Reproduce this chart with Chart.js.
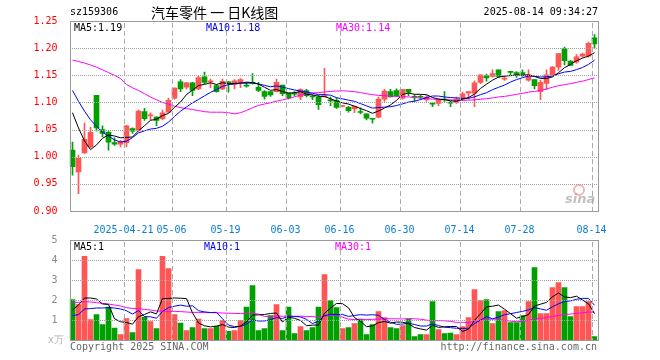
<!DOCTYPE html>
<html>
<head>
<meta charset="utf-8">
<script src="https://cdn.jsdelivr.net/npm/chart.js@4.4.1/dist/chart.umd.min.js"></script>
<style>
  html, body { margin:0; padding:0; background:#fff; }
  body { width:660px; height:360px; overflow:hidden; position:relative; font-family:'DejaVu Sans Mono', monospace; }
  canvas { position:absolute; left:0; }
  #c1 { top:0; }
  #c2 { top:230px; }
  .t { position:absolute; white-space:nowrap; font-size:10px; line-height:12px; font-family:'DejaVu Sans Mono', monospace; }
  #grid { position:absolute; left:0; top:0; width:660px; height:360px; pointer-events:none; z-index:5; }
  .gh { position:absolute; height:1px; background-image:repeating-linear-gradient(to right, #a0a0a0 0px, #a0a0a0 1px, rgba(0,0,0,0) 1px, rgba(0,0,0,0) 2px); }
  .gv { position:absolute; width:1px; background-image:repeating-linear-gradient(to bottom, #aaaaaa 0px, #aaaaaa 5px, rgba(0,0,0,0) 5px, rgba(0,0,0,0) 8px); }
</style>
</head>
<body>
<canvas id="c1" width="660" height="235"></canvas>
<canvas id="c2" width="660" height="130"></canvas>
<div id="grid"></div>

<div class="t" style="left:70px;top:6px;color:#000;">sz159306</div>
<div class="t" style="left:151px;top:3px;line-height:18px;font-size:14px;font-family:'Noto Sans CJK SC',sans-serif;color:#000;">汽车零件 一 日K线图</div>
<div class="t" style="right:62px;top:6px;color:#000;">2025-08-14 09:34:27</div>

<div class="t" style="left:74px;top:22px;color:#000;z-index:6;">MA5:1.19</div>
<div class="t" style="left:206px;top:22px;color:#0000ff;z-index:6;">MA10:1.18</div>
<div class="t" style="left:336px;top:22px;color:#ff00ff;z-index:6;">MA30:1.14</div>

<div class="t" style="left:74px;top:241px;color:#000;z-index:6;">MA5:1</div>
<div class="t" style="left:204px;top:241px;color:#0000ff;z-index:6;">MA10:1</div>
<div class="t" style="left:335px;top:241px;color:#ff00ff;z-index:6;">MA30:1</div>

<div class="t" style="left:48px;top:334px;color:#b0b0b0;">x万</div>
<div class="t" style="left:70px;top:341px;color:#666;">Copyright 2025 SINA.COM</div>
<div class="t" style="right:63px;top:341px;color:#666;">http://finance.sina.com.cn</div>

<div style="position:absolute;left:573px;top:184px;width:8px;height:8px;border:2px solid rgba(240,120,120,0.55);border-radius:50%;"></div>
<div class="t" style="left:565px;top:192px;font:italic bold 13px 'DejaVu Sans',sans-serif;color:rgba(150,150,150,0.6);line-height:14px;">sina</div>

<script>
// ---- categories (trading days) ----
const dates = [
  '2025-04-08','2025-04-09','2025-04-10','2025-04-11','2025-04-14','2025-04-15','2025-04-16','2025-04-17','2025-04-18','2025-04-21',
  '2025-04-22','2025-04-23','2025-04-24','2025-04-25','2025-04-28','2025-04-29','2025-04-30','2025-05-06','2025-05-07','2025-05-08',
  '2025-05-09','2025-05-12','2025-05-13','2025-05-14','2025-05-15','2025-05-16','2025-05-19','2025-05-20','2025-05-21','2025-05-22',
  '2025-05-23','2025-05-26','2025-05-27','2025-05-28','2025-05-29','2025-05-30','2025-06-03','2025-06-04','2025-06-05','2025-06-06',
  '2025-06-09','2025-06-10','2025-06-11','2025-06-12','2025-06-13','2025-06-16','2025-06-17','2025-06-18','2025-06-19','2025-06-20',
  '2025-06-23','2025-06-24','2025-06-25','2025-06-26','2025-06-27','2025-06-30','2025-07-01','2025-07-02','2025-07-03','2025-07-04',
  '2025-07-07','2025-07-08','2025-07-09','2025-07-10','2025-07-11','2025-07-14','2025-07-15','2025-07-16','2025-07-17','2025-07-18',
  '2025-07-21','2025-07-22','2025-07-23','2025-07-24','2025-07-25','2025-07-28','2025-07-29','2025-07-30','2025-07-31','2025-08-01',
  '2025-08-04','2025-08-05','2025-08-06','2025-08-07','2025-08-08','2025-08-11','2025-08-12','2025-08-14'
];
// ---- x tick labels ----
const tickDates = ['2025-04-21','2025-05-06','2025-05-19','2025-06-03','2025-06-16','2025-06-30','2025-07-14','2025-07-28','2025-08-14'];
const tickText  = ['2025-04-21','05-06','05-19','06-03','06-16','06-30','07-14','07-28','08-14'];
// ---- y tick values with grid lines ----
const priceGridValues = [0.95, 1.00, 1.05, 1.10, 1.15, 1.20];
const volumeGridValues = [1, 2, 3, 4];

// ---- OHLC ----
const opens = [
  1.012,0.972,1.007,1.018,1.113,1.050,1.045,1.026,1.023,1.026,
  1.052,1.049,1.083,1.075,1.073,1.070,1.082,1.108,1.138,1.128,
  1.136,1.125,1.147,1.138,1.131,1.125,1.138,1.133,1.137,1.132,
  1.137,1.128,1.120,1.120,1.120,1.132,1.117,1.117,1.110,1.122,
  1.111,1.110,1.110,1.105,1.104,1.0925,1.091,1.088,1.0825,1.079,
  1.070,1.073,1.106,1.120,1.122,1.108,1.124,1.1105,1.1105,1.105,
  1.0975,1.098,1.1055,1.0995,1.100,1.106,1.117,1.117,1.137,1.149,
  1.148,1.160,1.143,1.156,1.155,1.155,1.141,1.142,1.120,1.135,
  1.151,1.165,1.199,1.176,1.174,1.185,1.185,1.219
];
const highs = [
  1.027,1.003,1.062,1.054,1.113,1.057,1.047,1.035,1.030,1.058,
  1.053,1.086,1.089,1.081,1.074,1.086,1.108,1.127,1.142,1.137,
  1.137,1.148,1.156,1.143,1.133,1.143,1.139,1.142,1.144,1.137,
  1.153,1.137,1.122,1.120,1.143,1.132,1.117,1.120,1.125,1.124,
  1.114,1.113,1.163,1.110,1.108,1.0945,1.093,1.0935,1.090,1.079,
  1.070,1.110,1.124,1.124,1.125,1.124,1.124,1.114,1.114,1.113,
  1.099,1.106,1.120,1.102,1.110,1.119,1.120,1.140,1.151,1.152,
  1.160,1.160,1.149,1.157,1.157,1.160,1.160,1.142,1.141,1.160,
  1.166,1.190,1.202,1.177,1.188,1.191,1.211,1.225
];
const lows = [
  0.966,0.932,1.006,1.016,1.047,1.037,1.012,1.021,1.018,1.018,
  1.043,1.047,1.067,1.068,1.057,1.068,1.081,1.106,1.120,1.125,
  1.1125,1.1235,1.1345,1.127,1.119,1.1235,1.119,1.125,1.127,1.128,
  1.1335,1.120,1.106,1.111,1.119,1.1125,1.106,1.112,1.105,1.110,
  1.105,1.087,1.110,1.094,1.089,1.0915,1.082,1.081,1.079,1.068,
  1.062,1.0715,1.102,1.110,1.111,1.106,1.1125,1.102,1.106,1.102,
  1.092,1.094,1.102,1.092,1.098,1.104,1.106,1.092,1.1345,1.139,
  1.1465,1.146,1.1405,1.151,1.146,1.148,1.139,1.125,1.105,1.1235,
  1.1495,1.159,1.169,1.168,1.1725,1.1835,1.1835,1.200
];
const closes = [
  0.9815,0.997,1.032,1.045,1.053,1.043,1.027,1.023,1.028,1.057,
  1.047,1.084,1.070,1.077,1.067,1.081,1.104,1.1265,1.125,1.136,
  1.122,1.146,1.137,1.140,1.120,1.139,1.136,1.140,1.142,1.130,
  1.1345,1.122,1.111,1.114,1.137,1.116,1.108,1.115,1.1235,1.1125,
  1.110,1.096,1.1125,1.103,1.091,1.0935,1.085,1.093,1.0815,1.071,
  1.069,1.106,1.121,1.110,1.1125,1.124,1.119,1.1095,1.1095,1.110,
  1.097,1.105,1.1045,1.0985,1.106,1.116,1.120,1.136,1.151,1.145,
  1.153,1.148,1.145,1.1555,1.151,1.151,1.151,1.131,1.137,1.151,
  1.165,1.190,1.177,1.168,1.184,1.189,1.209,1.208
];
// ---- volume ----
const volumes = [
  2.02,1.77,4.18,1.02,1.27,0.77,1.65,0.60,0.27,1.07,
  0.37,3.52,1.15,0.92,0.57,4.18,3.57,1.27,0.85,0.47,
  0.62,1.05,0.57,0.57,0.68,0.97,0.43,0.47,0.97,1.65,
  2.72,0.47,0.57,1.22,1.77,0.47,1.65,0.32,0.67,0.47,
  0.62,1.65,3.27,1.97,1.62,0.57,0.62,0.82,1.05,0.27,
  0.77,1.42,1.12,0.62,0.57,0.72,1.05,0.17,0.27,0.27,
  1.92,0.52,0.32,0.35,0.27,0.67,1.12,2.52,1.97,2.02,
  0.82,1.42,1.47,0.87,0.87,1.22,1.92,3.62,1.32,1.32,
  2.62,2.87,2.62,1.17,1.67,1.67,1.92,0.17
];
// ---- moving-average values at the start of the window (earlier history not shown) ----
const ma5Lead  = [1.081,1.053,1.029,1.013];
const ma10Lead = [1.122,1.102,1.084,1.068,1.056,1.045,1.038,1.031,1.027];
const ma30Lead = [1.178,1.1755,1.1725,1.169,1.165,1.160,1.155,1.150,1.144,1.133,
                  1.127,1.122,1.116,1.110,1.105,1.100,1.097,1.093,1.0905,1.0885,
                  1.087,1.085,1.083,1.082,1.082,1.082,1.081,1.079,1.081];
const vma5Lead  = [1.5,1.75,2.1,2.1];
const vma10Lead = [1.22,1.27,1.55,1.57,1.6,1.6,1.62,1.6,1.55];
const vma30Lead = [1.88,1.88,1.92,1.9,1.87,1.83,1.8,1.75,1.7,1.62,
                   1.58,1.57,1.53,1.5,1.45,1.45,1.43,1.43,1.42,1.4,
                   1.38,1.38,1.37,1.37,1.36,1.35,1.34,1.33,1.32];

function movingAvg(src, n, lead) {
  return src.map((_, i) => {
    if (i < n - 1) return lead[i];
    let s = 0;
    for (let j = i - n + 1; j <= i; j++) s += src[j];
    return s / n;
  });
}

const UP = '#ff5555', DOWN = '#00a000';
const candleColors = closes.map((c, i) => c >= opens[i] ? UP : DOWN);
const wicks = lows.map((l, i) => [l, highs[i]]);
const bodies = opens.map((o, i) => [Math.min(o, closes[i]), Math.max(o, closes[i])]);

const ma5 = movingAvg(closes, 5, ma5Lead);
const ma10 = movingAvg(closes, 10, ma10Lead);
const ma30 = movingAvg(closes, 30, ma30Lead);
const vma5 = movingAvg(volumes, 5, vma5Lead);
const vma10 = movingAvg(volumes, 10, vma10Lead);
const vma30 = movingAvg(volumes, 30, vma30Lead);

const MONO = 'DejaVu Sans Mono';

// frame around the plot area
const framePlugin = {
  id: 'frame',
  afterDraw(chart) {
    const ctx = chart.ctx, a = chart.chartArea;
    const l = Math.round(a.left), t = Math.round(a.top);
    const r = Math.round(a.right), b = Math.round(a.bottom);
    ctx.save();
    ctx.strokeStyle = '#9a9a9a';
    ctx.lineWidth = 1;
    ctx.strokeRect(l + 0.5, t + 0.5, r - l, b - t);
    ctx.restore();
  }
};

function lineDs(label, data, color) {
  return { type: 'line', label, data, borderColor: color, borderWidth: 1, pointRadius: 0, tension: 0, fill: false, order: 0 };
}

const priceChart = new Chart(document.getElementById('c1'), {
  type: 'bar',
  data: {
    labels: dates,
    datasets: [
      lineDs('MA5', ma5, '#000000'),
      lineDs('MA10', ma10, '#0000ff'),
      lineDs('MA30', ma30, '#ff00ff'),
      { label: 'body', data: bodies, backgroundColor: candleColors, barThickness: 5, grouped: false, minBarLength: 1, order: 1 },
      { label: 'wick', data: wicks, backgroundColor: candleColors, barThickness: 1, grouped: false, minBarLength: 1, order: 2 }
    ]
  },
  options: {
    responsive: false,
    animation: false,
    events: [],
    layout: { padding: { top: 21, right: 62.5, left: 0, bottom: 0 } },
    plugins: { legend: { display: false }, tooltip: { enabled: false } },
    scales: {
      x: {
        type: 'category',
        offset: true,
        grid: { display: false },
        border: { display: false },
        ticks: {
          autoSkip: false, maxRotation: 0, minRotation: 0, padding: 5, labelOffset: -3,
          color: '#0a7fd0', font: { family: MONO, size: 10 },
          callback: (v, i) => { const j = tickDates.indexOf(dates[i]); return j >= 0 ? tickText[j] : ''; }
        },
        afterFit: (s) => { s.height = 24; }
      },
      y: {
        min: 0.9, max: 1.25,
        grid: { display: false },
        border: { display: false },
        ticks: { stepSize: 0.05, padding: 4, color: '#ff0000', font: { family: MONO, size: 10 }, callback: (v) => Number(v).toFixed(2) },
        afterFit: (s) => { s.width = 69.5; }
      }
    }
  },
  plugins: [framePlugin]
});

const volumeChart = new Chart(document.getElementById('c2'), {
  type: 'bar',
  data: {
    labels: dates,
    datasets: [
      lineDs('MA5', vma5, '#000000'),
      lineDs('MA10', vma10, '#0000ff'),
      lineDs('MA30', vma30, '#ff00ff'),
      { label: 'volume', data: volumes, backgroundColor: candleColors, barThickness: 5, grouped: false, order: 1 }
    ]
  },
  options: {
    responsive: false,
    animation: false,
    events: [],
    layout: { padding: { top: 10, right: 62.5, left: 0, bottom: 0 } },
    plugins: { legend: { display: false }, tooltip: { enabled: false } },
    scales: {
      x: {
        type: 'category',
        offset: true,
        grid: { display: false },
        border: { display: false },
        ticks: { display: false, autoSkip: false },
        afterFit: (s) => { s.height = 20; }
      },
      y: {
        min: 0, max: 5,
        grid: { display: false },
        border: { display: false },
        ticks: { stepSize: 1, padding: 4, color: '#8a8a8a', font: { family: MONO, size: 10 }, callback: (v) => v === 0 ? '' : String(v) },
        afterFit: (s) => { s.width = 69.5; }
      }
    }
  },
  plugins: [framePlugin]
});

// grid lines as page elements, positioned from each chart's own scales
function addGrid(chart, canvasTop, yValues) {
  const box = document.getElementById('grid');
  const a = chart.chartArea, xs = chart.scales.x, ys = chart.scales.y;
  const slot = (a.right - a.left) / dates.length;
  const left = Math.round(a.left), right = Math.round(a.right);
  const top = Math.round(a.top), bottom = Math.round(a.bottom);
  yValues.forEach(v => {
    const d = document.createElement('div');
    d.className = 'gh';
    d.style.left = (left + 2) + 'px';
    d.style.width = (right - left - 2) + 'px';
    d.style.top = (canvasTop + Math.round(ys.getPixelForValue(v))) + 'px';
    box.appendChild(d);
  });
  tickDates.forEach(dt => {
    const i = dates.indexOf(dt);
    if (i < 0) return;
    const d = document.createElement('div');
    d.className = 'gv';
    d.style.left = Math.round(xs.getPixelForValue(i) - slot / 2) + 'px';
    d.style.top = (canvasTop + top + 2) + 'px';
    d.style.height = (bottom - top - 2) + 'px';
    box.appendChild(d);
  });
}
addGrid(priceChart, 0, priceGridValues);
addGrid(volumeChart, 230, volumeGridValues);
</script>
</body>
</html>
